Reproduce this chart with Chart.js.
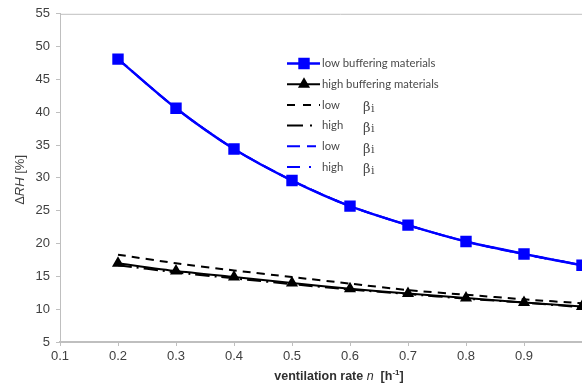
<!DOCTYPE html>
<html>
<head>
<meta charset="utf-8">
<script src="https://cdn.jsdelivr.net/npm/chart.js@4"></script>
<style>
  html, body { margin: 0; padding: 0; background: #fff; }
  #wrap { width: 582px; height: 385px; overflow: hidden; position: relative; }
  #wrap canvas { display: block; }
</style>
</head>
<body>
<div id="wrap"><canvas id="c" width="620" height="385"></canvas></div>
<script>
// ventilation rate n [1/h] and ΔRH [%]
const rates = [0.2, 0.3, 0.4, 0.5, 0.6, 0.7, 0.8, 0.9, 1.0];
const lowBuffering  = [48.1, 40.6, 34.4, 29.6, 25.7, 22.8, 20.3, 18.4, 16.7];
const highBuffering = [17.0, 15.8, 14.9, 14.0, 13.1, 12.4, 11.7, 11.0, 10.4];
const lowBetaBlack  = [18.3, 17.0, 15.9, 14.9, 13.9, 12.9, 12.2, 11.5, 10.9];
const highBetaBlack = [16.7, 15.6, 14.7, 13.8, 13.0, 12.3, 11.6, 11.0, 10.3];
const lowBetaBlue   = [48.1, 40.6, 34.4, 29.6, 25.7, 22.8, 20.3, 18.4, 16.7];
const highBetaBlue  = [48.1, 40.6, 34.4, 29.6, 25.7, 22.8, 20.3, 18.4, 16.7];
const yTicks = [5, 10, 15, 20, 25, 30, 35, 40, 45, 50, 55];
const xTicks = [0.1, 0.2, 0.3, 0.4, 0.5, 0.6, 0.7, 0.8, 0.9, 1.0];

const BLUE = "#0000ff", BLACK = "#000000", AXIS = "#bfbfbf", TXT = "#404040";
const pts = (vals) => rates.map((x, i) => ({ x, y: vals[i] }));

const datasets = [
  { label: "low buffering materials", data: pts(lowBuffering), borderColor: BLUE, backgroundColor: BLUE,
    borderWidth: 2.5, pointStyle: "rect", pointRadius: 6.3, tension: 0.25 },
  { label: "high buffering materials", data: pts(highBuffering), borderColor: BLACK, backgroundColor: BLACK,
    borderWidth: 2, pointStyle: "triangle", pointRadius: 5, tension: 0.2 },
  { label: "low", beta: true, data: pts(lowBetaBlack), borderColor: BLACK, borderWidth: 2,
    borderDash: [8, 6], pointRadius: 0, tension: 0.2, legendDash: [8, 8] },
  { label: "high", beta: true, data: pts(highBetaBlack), borderColor: BLACK, borderWidth: 2,
    borderDash: [14, 5, 2, 5], pointRadius: 0, tension: 0.2, legendDash: [16, 7, 2, 8] },
  { label: "low", beta: true, data: pts(lowBetaBlue), borderColor: BLUE, borderWidth: 2,
    borderDash: [12, 6], pointRadius: 0, tension: 0.25, legendDash: [13, 7, 9, 4] },
  { label: "high", beta: true, data: pts(highBetaBlue), borderColor: BLUE, borderWidth: 2,
    borderDash: [12, 6, 2, 6], pointRadius: 0, tension: 0.25, legendDash: [13, 9, 2, 9] },
];

// frame line along the top of the plot + axis titles with mixed styling
const frame = {
  id: "frame",
  afterDraw(chart) {
    const { ctx, chartArea: a } = chart;
    ctx.save();
    ctx.strokeStyle = AXIS; ctx.lineWidth = 1;
    ctx.beginPath(); ctx.moveTo(a.left, a.top + 0.5); ctx.lineTo(a.right + 40, a.top + 0.5); ctx.stroke();

    // x title: ventilation rate n [h-1]
    const parts = [
      ["bold 12.5px 'Liberation Sans'", "ventilation rate ", 0],
      ["italic 12.5px 'Liberation Sans'", "n", 0],
      ["bold 12.5px 'Liberation Sans'", "  [h", 0],
      ["bold 8px 'Liberation Sans'", "-1", -5],
      ["bold 12.5px 'Liberation Sans'", "]", 0],
    ];
    let w = 0;
    parts.forEach(([f, t]) => { ctx.font = f; w += ctx.measureText(t).width; });
    let x = 339 - w / 2;
    ctx.fillStyle = "#303030"; ctx.textBaseline = "alphabetic"; ctx.textAlign = "left";
    parts.forEach(([f, t, dy]) => { ctx.font = f; ctx.fillText(t, x, 380 + dy); x += ctx.measureText(t).width; });

    // y title: ΔRH [%]
    ctx.translate(24, (a.top + a.bottom) / 2 + 2);
    ctx.rotate(-Math.PI / 2);
    const yp = [["13px 'Liberation Sans'", "Δ"], ["italic 13px 'Liberation Sans'", "RH"], ["13px 'Liberation Sans'", " [%]"]];
    w = 0; yp.forEach(([f, t]) => { ctx.font = f; w += ctx.measureText(t).width; });
    x = -w / 2; ctx.fillStyle = TXT;
    yp.forEach(([f, t]) => { ctx.font = f; ctx.fillText(t, x, 0); x += ctx.measureText(t).width; });
    ctx.restore();
  },
};

// legend inside the plot area, Excel style
const insideLegend = {
  id: "insideLegend",
  afterDraw(chart) {
    const { ctx } = chart;
    ctx.save();
    chart.data.datasets.forEach((ds, i) => {
      const y = 63.5 + i * 20.7, x0 = 287, x1 = 320;
      ctx.strokeStyle = ds.borderColor; ctx.lineWidth = ds.borderWidth;
      ctx.setLineDash(ds.legendDash || []);
      ctx.beginPath(); ctx.moveTo(x0, y); ctx.lineTo(x1, y); ctx.stroke();
      ctx.setLineDash([]);
      if (ds.pointRadius) {
        Chart.helpers.drawPoint(ctx, { pointStyle: ds.pointStyle, radius: ds.pointStyle === "rect" ? 6.3 : 5,
          borderWidth: 1, rotation: 0 }, (x0 + x1) / 2 + 0.5, y);
        ctx.fillStyle = ds.backgroundColor; ctx.fill();
      }
      ctx.fillStyle = "#4a4a4a"; ctx.font = "11.3px Lato"; ctx.textBaseline = "middle"; ctx.textAlign = "left";
      ctx.fillText(ds.label, 322, y);
      if (ds.beta) { ctx.font = "13px 'DejaVu Serif'"; ctx.fillText("β", 363, y + 3); ctx.font = "11px 'DejaVu Serif'"; ctx.fillText("i", 371, y + 4); }
    });
    ctx.restore();
  },
};

new Chart(document.getElementById("c"), {
  type: "line",
  data: { datasets },
  plugins: [frame, insideLegend],
  options: {
    responsive: false, animation: false, events: [],
    layout: { padding: { left: 0, top: 13, right: 38, bottom: 0 } },
    plugins: { legend: { display: false }, tooltip: { enabled: false } },
    scales: {
      x: {
        type: "linear", min: 0.1, max: 1.0,
        afterBuildTicks: (s) => { s.ticks = xTicks.map((v) => ({ value: v })); },
        afterFit: (s) => { s.height = 43; },
        ticks: { color: TXT, font: { family: "Liberation Sans", size: 13 }, padding: 3,
          // the last label falls outside the cropped picture
          callback: (v) => (v >= 1 ? "" : String(Math.round(v * 10) / 10)) },
        grid: { drawOnChartArea: false, drawTicks: true, tickLength: 4, color: AXIS },
        border: { color: AXIS, width: 2 },
      },
      y: {
        min: 5, max: 55,
        afterBuildTicks: (s) => { s.ticks = yTicks.map((v) => ({ value: v })); },
        afterFit: (s) => { s.width = 60; },
        ticks: { color: TXT, font: { family: "Liberation Sans", size: 13 }, padding: 6 },
        grid: { drawOnChartArea: false, drawTicks: true, tickLength: 4, color: AXIS },
        border: { color: AXIS, width: 1 },
      },
    },
  },
});
</script>
</body>
</html>
